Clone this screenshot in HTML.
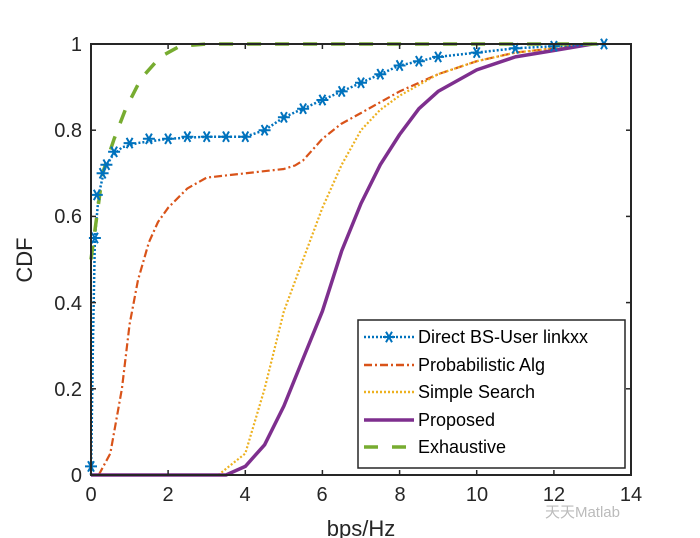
<!DOCTYPE html>
<html><head><meta charset="utf-8"><style>
html,body{margin:0;padding:0;background:#fff;}
svg{display:block;font-family:"Liberation Sans",Arial,sans-serif;}
</style></head><body>
<svg width="700" height="538" viewBox="0 0 700 538">
<defs><path id="st" d="M-6,0h12M-3,-5.2l6,10.4M3,-5.2l-6,10.4" stroke="#0072BD" stroke-width="2" fill="none"/></defs>
<rect width="700" height="538" fill="#fff"/>
<g fill="none" stroke-linejoin="round">
<polyline stroke="#D95319" stroke-width="2.2" stroke-dasharray="8,3,2,3" points="98.7,475 110.3,453.5 121.9,388.8 129.6,324.2 138,280 148.9,242.3 158,222 168.1,207.8 187.4,188.4 206.7,177.6 245.3,173.3 283.9,169 295,165.5 303.1,160.4 322.4,138.8 341,124 361,113 399.6,91.4 438.1,74.2 476.7,61.2 515.3,52.6 553.9,48.3 592.4,44"/>
<polyline stroke="#EDB120" stroke-width="2.2" stroke-dasharray="2,2" points="218.3,475 245.3,453.5 264.6,388.8 283.9,311.2 303.1,259.5 322.4,207.8 341.7,164.7 361,130.2 380,110 399.6,95.7 438.1,74.2 476.7,61.2 515.3,52.6 553.9,48.3 592.4,44"/>
<polyline stroke="#7E2F8E" stroke-width="3.5" points="91,475 226,475 245.3,466.4 264.6,444.8 283.9,406 303.1,358.6 322.4,311.2 341.7,250.9 361,203.5 380.3,164.7 399.6,134.5 418.9,108.7 438.1,91.4 476.7,69.9 515.3,56.9 553.9,50.5 592.4,44"/>
<polyline stroke="#0072BD" stroke-width="2.5" stroke-dasharray="2,2" points="91,475 92.9,345.7 94.9,238 98.7,194.9 104.5,169 112.2,156.1 121.9,147.4 137.3,143.1 168.1,138.8 206.7,136.7 245.3,136.7 264.6,130.2 283.9,117.3 322.4,100 361,82.8 399.6,65.5 438.1,56.9 476.7,52.6 515.3,48.3 553.9,46.2 604,44"/>
<polyline stroke="#77AC30" stroke-width="3.5" stroke-dasharray="14,14" points="91,259.5 96.8,216.4 102.6,173.3 114.1,139 125.7,108.7 141.1,78.5 160.4,56.9 179.7,46.2 206.7,44 604,44"/>
</g>
<g>
<use href="#st" x="91" y="466.4"/><use href="#st" x="94.9" y="238"/><use href="#st" x="96.8" y="194.9"/><use href="#st" x="102.6" y="173.3"/><use href="#st" x="106.4" y="164.7"/><use href="#st" x="114.1" y="151.8"/><use href="#st" x="129.6" y="143.1"/><use href="#st" x="148.9" y="138.8"/><use href="#st" x="168.1" y="138.8"/><use href="#st" x="187.4" y="136.7"/><use href="#st" x="206.7" y="136.7"/><use href="#st" x="226" y="136.7"/><use href="#st" x="245.3" y="136.7"/><use href="#st" x="264.6" y="130.2"/><use href="#st" x="283.9" y="117.3"/><use href="#st" x="303.1" y="108.7"/><use href="#st" x="322.4" y="100"/><use href="#st" x="341.7" y="91.4"/><use href="#st" x="361" y="82.8"/><use href="#st" x="380.3" y="74.2"/><use href="#st" x="399.6" y="65.5"/><use href="#st" x="418.9" y="61.2"/><use href="#st" x="438.1" y="56.9"/><use href="#st" x="476.7" y="52.6"/><use href="#st" x="515.3" y="48.3"/><use href="#st" x="553.9" y="46.2"/><use href="#st" x="604" y="44"/>
</g>
<rect x="91" y="44" width="540" height="431" fill="none" stroke="#262626" stroke-width="2"/>
<g stroke="#262626" stroke-width="1.5">
<line x1="168.1" y1="475" x2="168.1" y2="470"/><line x1="245.3" y1="475" x2="245.3" y2="470"/><line x1="322.4" y1="475" x2="322.4" y2="470"/><line x1="399.6" y1="475" x2="399.6" y2="470"/><line x1="476.7" y1="475" x2="476.7" y2="470"/><line x1="553.9" y1="475" x2="553.9" y2="470"/>
<line x1="168.1" y1="44" x2="168.1" y2="49"/><line x1="245.3" y1="44" x2="245.3" y2="49"/><line x1="322.4" y1="44" x2="322.4" y2="49"/><line x1="399.6" y1="44" x2="399.6" y2="49"/><line x1="476.7" y1="44" x2="476.7" y2="49"/><line x1="553.9" y1="44" x2="553.9" y2="49"/>
<line x1="91" y1="388.8" x2="96" y2="388.8"/><line x1="91" y1="302.6" x2="96" y2="302.6"/><line x1="91" y1="216.4" x2="96" y2="216.4"/><line x1="91" y1="130.2" x2="96" y2="130.2"/>
<line x1="631" y1="388.8" x2="626" y2="388.8"/><line x1="631" y1="302.6" x2="626" y2="302.6"/><line x1="631" y1="216.4" x2="626" y2="216.4"/><line x1="631" y1="130.2" x2="626" y2="130.2"/>
</g>
<g font-size="20" fill="#262626" text-anchor="middle">
<text x="91" y="501">0</text><text x="168" y="501">2</text><text x="245" y="501">4</text>
<text x="322" y="501">6</text><text x="400" y="501">8</text><text x="477" y="501">10</text>
<text x="554" y="501">12</text><text x="631" y="501">14</text>
</g>
<g font-size="20" fill="#262626" text-anchor="end">
<text x="82" y="482">0</text><text x="82" y="396">0.2</text><text x="82" y="310">0.4</text>
<text x="82" y="223">0.6</text><text x="82" y="137">0.8</text><text x="82" y="51">1</text>
</g>
<text x="361" y="536" font-size="22" text-anchor="middle" fill="#262626">bps/Hz</text>
<text transform="translate(32,260) rotate(-90)" font-size="22" text-anchor="middle" fill="#262626">CDF</text>
<rect x="358" y="320" width="267" height="148" fill="#fff" stroke="#262626" stroke-width="1.5"/>
<g font-size="18" fill="#000">
<text x="418" y="343">Direct BS-User linkxx</text>
<text x="418" y="371">Probabilistic Alg</text>
<text x="418" y="398">Simple Search</text>
<text x="418" y="426">Proposed</text>
<text x="418" y="453">Exhaustive</text>
</g>
<line x1="364" y1="337" x2="414" y2="337" stroke="#0072BD" stroke-width="2.5" stroke-dasharray="2,2"/>
<use href="#st" x="389" y="337"/>
<line x1="364" y1="365" x2="414" y2="365" stroke="#D95319" stroke-width="2.5" stroke-dasharray="8,3,2,3"/>
<line x1="364" y1="392" x2="414" y2="392" stroke="#EDB120" stroke-width="2.5" stroke-dasharray="2,2"/>
<line x1="364" y1="420" x2="414" y2="420" stroke="#7E2F8E" stroke-width="3.5"/>
<line x1="364" y1="447" x2="414" y2="447" stroke="#77AC30" stroke-width="3.5" stroke-dasharray="14,14"/>
<text x="620" y="517" font-size="15" fill="#bbb" text-anchor="end">天天Matlab</text>
</svg>
</body></html>
